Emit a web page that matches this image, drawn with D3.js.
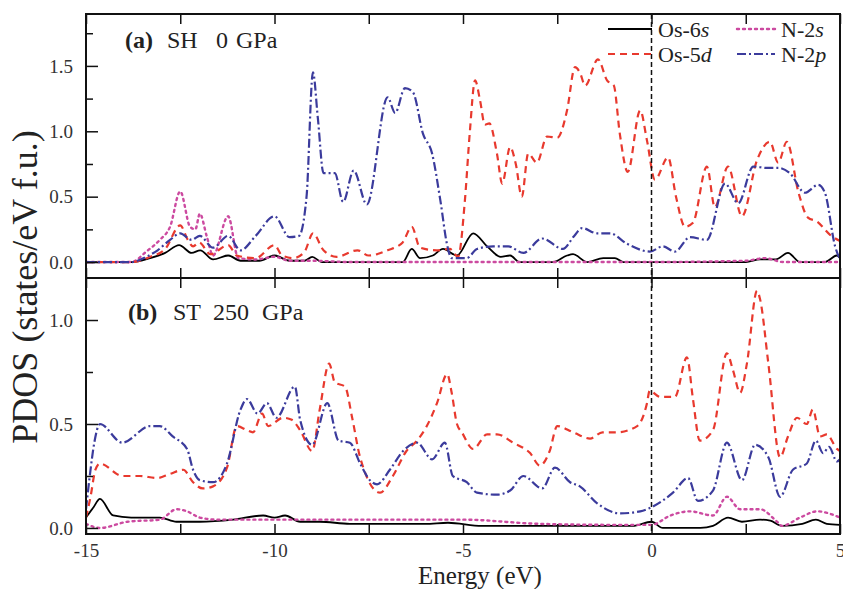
<!DOCTYPE html>
<html>
<head>
<meta charset="utf-8">
<script src="https://cdn.jsdelivr.net/npm/d3@7"></script>
<style>
  body { margin: 0; background: #fff; }
  svg text { font-family: "Liberation Serif", "Times New Roman", Times, serif; }
</style>
</head>
<body>
<div id="chart"></div>
<script>
// ---- data: [energy (eV), PDOS] ----
// (a) SH 0 GPa
const shOs6s = [[-15,0],[-13.8,0],[-13.3,0.03],[-12.9,0.07],[-12.53,0.13],[-12.2,0.07],[-11.97,0.09],[-11.63,0.02],[-11.23,0.05],[-10.9,0.01],[-10.4,0.01],[-10.0,0.05],[-9.6,0.01],[-9.2,0.01],[-9.0,0.04],[-8.75,0],[-7.5,0],[-6.6,0],[-6.36,0.1],[-6.14,0.03],[-5.8,0.05],[-5.53,0.1],[-5.16,0.05],[-4.73,0.22],[-4.36,0.12],[-4.0,0.04],[-3.75,0.05],[-3.5,0],[-2.6,0],[-2.24,0.05],[-2.08,0.06],[-1.71,0],[-1.28,0.03],[-0.97,0.03],[-0.75,0],[2.5,0],[2.88,0.02],[3.3,0.02],[3.62,0.07],[3.94,0],[4.6,0],[4.92,0.05],[5,0.03]];
const shN2s = [[-15,0],[-13.8,0],[-13.4,0.08],[-13.04,0.17],[-12.77,0.27],[-12.5,0.54],[-12.24,0.27],[-12.1,0.25],[-11.98,0.37],[-11.8,0.2],[-11.63,0.05],[-11.23,0.35],[-10.96,0.03],[-10.5,0.02],[-10.0,0.04],[-9.6,0.01],[-9,0.01],[-8,0],[-5,0],[0,0],[2.5,0.01],[3.0,0.03],[3.5,0],[5,0]];
const shOs5d = [[-15,0],[-13.8,0],[-13.3,0.04],[-12.9,0.1],[-12.5,0.28],[-12.3,0.17],[-12.16,0.12],[-12.0,0.15],[-11.7,0.06],[-11.23,0.13],[-11.0,0.05],[-10.5,0.03],[-10.0,0.13],[-9.8,0.05],[-9.5,0.03],[-9.2,0.08],[-8.98,0.22],[-8.7,0.09],[-8.35,0.04],[-7.8,0.09],[-7.5,0.05],[-7.0,0.09],[-6.6,0.15],[-6.36,0.27],[-6.14,0.11],[-5.7,0.09],[-5.35,0.1],[-5.13,0.04],[-4.95,0.47],[-4.82,0.99],[-4.68,1.39],[-4.55,1.24],[-4.42,1.05],[-4.3,1.06],[-4.1,0.83],[-3.96,0.6],[-3.75,0.88],[-3.6,0.75],[-3.44,0.5],[-3.27,0.83],[-3.04,0.76],[-2.77,0.96],[-2.5,0.95],[-2.24,1.16],[-2.03,1.49],[-1.9,1.45],[-1.76,1.35],[-1.42,1.55],[-1.18,1.39],[-1.0,1.35],[-0.84,0.98],[-0.63,0.69],[-0.3,1.16],[-0.12,0.93],[0.09,0.63],[0.44,0.8],[0.65,0.5],[0.89,0.27],[1.1,0.3],[1.47,0.73],[1.68,0.42],[2.03,0.73],[2.4,0.35],[2.8,0.78],[3.14,0.92],[3.36,0.76],[3.59,0.92],[3.9,0.53],[4.15,0.34],[4.39,0.31],[4.73,0.21],[5,0.16]];
const shN2p = [[-15,0],[-13.8,0],[-13.4,0.04],[-13.1,0.09],[-12.77,0.17],[-12.5,0.22],[-12.2,0.17],[-11.98,0.2],[-11.63,0.11],[-11.23,0.2],[-10.9,0.09],[-10.5,0.2],[-10.0,0.35],[-9.6,0.19],[-9.35,0.2],[-9.15,0.5],[-8.98,1.45],[-8.85,1.1],[-8.7,0.68],[-8.4,0.68],[-8.18,0.46],[-7.9,0.7],[-7.55,0.44],[-7.0,1.26],[-6.8,1.14],[-6.54,1.33],[-6.33,1.3],[-6.06,0.98],[-5.82,0.83],[-5.6,0.47],[-5.42,0.13],[-5.3,0.03],[-4.9,0.03],[-4.63,0.1],[-4.2,0.12],[-3.8,0.12],[-3.4,0.07],[-2.9,0.18],[-2.35,0.1],[-2.05,0.2],[-1.84,0.26],[-1.45,0.22],[-1.1,0.22],[-0.65,0.14],[-0.04,0.08],[0.3,0.12],[0.62,0.08],[1.02,0.19],[1.47,0.17],[1.95,0.6],[2.3,0.45],[2.7,0.73],[3.06,0.72],[3.36,0.72],[3.67,0.68],[4.07,0.53],[4.42,0.59],[4.6,0.53],[4.87,0.12],[5,0.02]];

// (b) ST 250 GPa
const stOs6s = [[-15,0.05],[-14.8,0.1],[-14.63,0.14],[-14.28,0.06],[-13.8,0.05],[-13.04,0.05],[-12.6,0.03],[-11.98,0.03],[-11.1,0.04],[-10.3,0.06],[-10.0,0.05],[-9.72,0.06],[-9.32,0.03],[-8.8,0.03],[-8.0,0.02],[-6,0.02],[-5.4,0.025],[-4.5,0.01],[-2,0.01],[-0.5,0.01],[0,0.03],[0.3,0],[1.3,0],[1.63,0.01],[2.03,0.05],[2.4,0.03],[2.88,0.04],[3.15,0.035],[3.46,0.01],[4.0,0.02],[4.36,0.04],[4.65,0.02],[5,0.015]];
const stN2s = [[-15,0.02],[-14.63,0],[-13.9,0.03],[-13.04,0.04],[-12.6,0.09],[-12.32,0.08],[-11.98,0.05],[-11.5,0.04],[-10,0.04],[-7,0.04],[-5,0.04],[-3,0.02],[-1,0.015],[0,0.015],[0.5,0.06],[1.02,0.08],[1.63,0.06],[2.0,0.15],[2.35,0.09],[2.88,0.09],[3.33,0.03],[3.46,0.01],[3.94,0.05],[4.39,0.08],[5,0.05]];
const stOs5d = [[-15,0.05],[-14.88,0.15],[-14.75,0.28],[-14.63,0.31],[-14.04,0.25],[-13.57,0.25],[-13.12,0.24],[-12.77,0.26],[-12.42,0.28],[-12.16,0.22],[-11.9,0.19],[-11.63,0.2],[-11.26,0.29],[-11.0,0.49],[-10.73,0.47],[-10.57,0.46],[-10.33,0.55],[-10.17,0.49],[-9.77,0.53],[-9.54,0.52],[-9.32,0.47],[-9.0,0.37],[-8.8,0.57],[-8.55,0.79],[-8.4,0.7],[-8.13,0.68],[-7.94,0.53],[-7.73,0.34],[-7.2,0.17],[-6.86,0.25],[-6.5,0.37],[-6.22,0.42],[-5.96,0.49],[-5.69,0.6],[-5.42,0.74],[-5.3,0.65],[-5.16,0.5],[-5.03,0.46],[-4.73,0.38],[-4.36,0.45],[-4.1,0.45],[-3.67,0.41],[-3.22,0.36],[-2.96,0.3],[-2.7,0.37],[-2.5,0.49],[-2.08,0.46],[-1.63,0.43],[-1.3,0.46],[-0.92,0.46],[-0.38,0.49],[-0.12,0.6],[-0.05,0.66],[0.23,0.63],[0.62,0.63],[0.94,0.82],[1.1,0.62],[1.28,0.42],[1.63,0.47],[2.0,0.84],[2.16,0.76],[2.35,0.65],[2.53,0.79],[2.8,1.14],[2.88,1.1],[3.1,0.79],[3.41,0.34],[3.62,0.44],[3.86,0.53],[4.12,0.5],[4.28,0.57],[4.47,0.44],[4.65,0.45],[4.92,0.38],[5,0.37]];
const stN2p = [[-15,0.09],[-14.9,0.25],[-14.78,0.41],[-14.63,0.5],[-14.04,0.41],[-13.3,0.49],[-13.04,0.49],[-12.7,0.44],[-12.32,0.38],[-12.16,0.28],[-11.98,0.23],[-11.63,0.22],[-11.26,0.31],[-10.9,0.57],[-10.73,0.62],[-10.45,0.55],[-10.2,0.6],[-9.95,0.53],[-9.46,0.68],[-9.32,0.52],[-9.0,0.4],[-8.6,0.6],[-8.3,0.42],[-8.0,0.41],[-7.73,0.31],[-7.47,0.23],[-7.28,0.21],[-6.94,0.28],[-6.59,0.37],[-6.22,0.41],[-5.82,0.33],[-5.48,0.41],[-5.27,0.25],[-4.9,0.22],[-4.63,0.17],[-4.1,0.16],[-3.75,0.18],[-3.4,0.25],[-2.9,0.19],[-2.56,0.29],[-2.16,0.22],[-1.9,0.2],[-1.45,0.12],[-0.84,0.07],[-0.3,0.08],[0,0.1],[0.57,0.17],[0.97,0.24],[1.23,0.13],[1.63,0.18],[2.0,0.41],[2.4,0.23],[2.75,0.4],[3.1,0.34],[3.41,0.15],[3.75,0.28],[4.12,0.31],[4.36,0.42],[4.55,0.36],[4.71,0.39],[4.92,0.32],[5,0.33]];

// ticks
const xTicks = [-15, -12.5, -10, -7.5, -5, -2.5, 0, 2.5, 5];
const xTickLabels = [-15, -10, -5, 0, 5];
const yTicksTop = [0, 0.5, 1.0, 1.5];
const yMinorTop = [0.25, 0.75, 1.25, 1.75];
const yTicksBottom = [0, 0.5, 1.0];
const yMinorBottom = [0.25, 0.75];

// legend entries
const legendItems = [
    { name: "Os-6", orb: "s", color: "#000000", dash: null, width: 1.8, col: 0, row: 0 },
    { name: "N-2", orb: "s", color: "#cc4aa0", dash: "2,4", width: 2.4, col: 1, row: 0 },
    { name: "Os-5", orb: "d", color: "#e8392e", dash: "7,5", width: 2.2, col: 0, row: 1 },
    { name: "N-2", orb: "p", color: "#3b3b9c", dash: "9,3,2,3", width: 2.2, col: 1, row: 1 }
];

const panels = [
    { key: "a", tag: "(a)", phase: "SH", press: "0", top: 14, bottom: 278, domain: [-0.122, 1.897],
      yTicks: yTicksTop, yMinor: yMinorTop, lines: [shOs6s, shN2s, shOs5d, shN2p],
      labelPos: [125, 167, 216, 236], labelY: 48 },
    { key: "b", tag: "(b)", phase: "ST", press: "250", top: 278, bottom: 534, domain: [-0.029, 1.202],
      yTicks: yTicksBottom, yMinor: yMinorBottom, lines: [stOs6s, stN2s, stOs5d, stN2p],
      labelPos: [128, 173, 213, 262], labelY: 320 }
];

const width = 843, height = 589;
const left = 86, right = 840;

const svg = d3.select("#chart").append("svg")
    .attr("width", width)
    .attr("height", height);

const x = d3.scaleLinear().domain([-15, 5]).range([left, right]);

panels.forEach(function(p) {
    const y = d3.scaleLinear().domain(p.domain).range([p.bottom, p.top]);
    const g = svg.append("g").attr("class", "panel-" + p.key);

    g.append("clipPath").attr("id", "clip-" + p.key)
        .append("rect")
        .attr("x", left).attr("y", p.top)
        .attr("width", right - left).attr("height", p.bottom - p.top);

    const line = d3.line()
        .x(d => x(d[0]))
        .y(d => y(d[1]))
        .curve(d3.curveMonotoneX);

    // curves
    p.lines.forEach(function(data, i) {
        const s = legendItems[i];
        g.append("path")
            .attr("clip-path", "url(#clip-" + p.key + ")")
            .attr("d", line(data))
            .attr("fill", "none")
            .attr("stroke", s.color)
            .attr("stroke-width", s.width)
            .attr("stroke-dasharray", s.dash)
            .attr("stroke-linecap", s.dash === "2,4" ? "round" : "butt")
            .attr("stroke-linejoin", "round");
    });

    // x ticks, inward, bottom and top of each panel
    const xBottom = d3.axisBottom(x)
        .tickValues(xTicks)
        .tickSizeInner(-10)
        .tickSizeOuter(0)
        .tickPadding(10)
        .tickFormat(d => (p.key === "b" && xTickLabels.includes(d)) ? String(d) : "");
    const xb = g.append("g").attr("transform", `translate(0,${p.bottom})`).call(xBottom);
    const xTop = d3.axisTop(x).tickValues(xTicks).tickSizeInner(-10).tickSizeOuter(0).tickFormat("");
    const xt = g.append("g").attr("transform", `translate(0,${p.top})`).call(xTop);

    // y ticks
    const yMajor = d3.axisLeft(y)
        .tickValues(p.yTicks)
        .tickSizeInner(-12)
        .tickSizeOuter(0)
        .tickPadding(13)
        .tickFormat(d3.format(".1f"));
    const ym = g.append("g").attr("transform", `translate(${left},0)`).call(yMajor);
    const yMin = d3.axisLeft(y).tickValues(p.yMinor).tickSizeInner(-7).tickSizeOuter(0).tickFormat("");
    const yn = g.append("g").attr("transform", `translate(${left},0)`).call(yMin);

    [xb, xt, ym, yn].forEach(function(a) {
        a.select(".domain").remove();
        a.selectAll("line").attr("stroke", "#111").attr("stroke-width", 1.5);
        a.selectAll("text")
            .attr("fill", "#333")
            .attr("font-family", null)
            .style("font-size", "19px");
    });

    // frame
    g.append("rect")
        .attr("x", left).attr("y", p.top)
        .attr("width", right - left).attr("height", p.bottom - p.top)
        .attr("fill", "none")
        .attr("stroke", "#111")
        .attr("stroke-width", 2);

    // panel label
    const lab = g.append("text")
        .attr("y", p.labelY)
        .attr("fill", "#222")
        .style("font-size", "24px");
    lab.append("tspan").attr("x", p.labelPos[0]).attr("font-weight", "bold").text(p.tag);
    lab.append("tspan").attr("x", p.labelPos[1]).text(p.phase);
    lab.append("tspan").attr("x", p.labelPos[2]).text(p.press);
    lab.append("tspan").attr("x", p.labelPos[3]).text("GPa");
});

// Fermi level
svg.append("line")
    .attr("x1", x(0)).attr("x2", x(0))
    .attr("y1", 14).attr("y2", 534)
    .attr("stroke", "#111")
    .attr("stroke-width", 1.5)
    .attr("stroke-dasharray", "5,3");

// legend
const legend = svg.append("g").attr("class", "legend");
legendItems.forEach(function(s) {
    const lx = s.col === 0 ? 608 : 737;
    const ly = s.row === 0 ? 29 : 54;
    legend.append("line")
        .attr("x1", lx).attr("x2", lx + (s.col === 0 ? 44 : 38))
        .attr("y1", ly).attr("y2", ly)
        .attr("stroke", s.color)
        .attr("stroke-width", s.width)
        .attr("stroke-dasharray", s.dash)
        .attr("stroke-linecap", s.dash === "2,4" ? "round" : "butt");
    const t = legend.append("text")
        .attr("x", s.col === 0 ? 658 : 781)
        .attr("y", ly + 4)
        .attr("dy", "0.2em")
        .attr("fill", "#222")
        .style("font-size", "22px");
    t.append("tspan").text(s.name);
    t.append("tspan").attr("font-style", "italic").text(s.orb);
});

// axis titles
svg.append("text")
    .attr("x", 480)
    .attr("y", 584)
    .attr("text-anchor", "middle")
    .attr("fill", "#222")
    .style("font-size", "25px")
    .text("Energy (eV)");

svg.append("text")
    .attr("transform", "translate(37,287) rotate(-90)")
    .attr("text-anchor", "middle")
    .attr("fill", "#222")
    .style("font-size", "36px")
    .text("PDOS (states/eV f.u.)");
</script>
</body>
</html>
